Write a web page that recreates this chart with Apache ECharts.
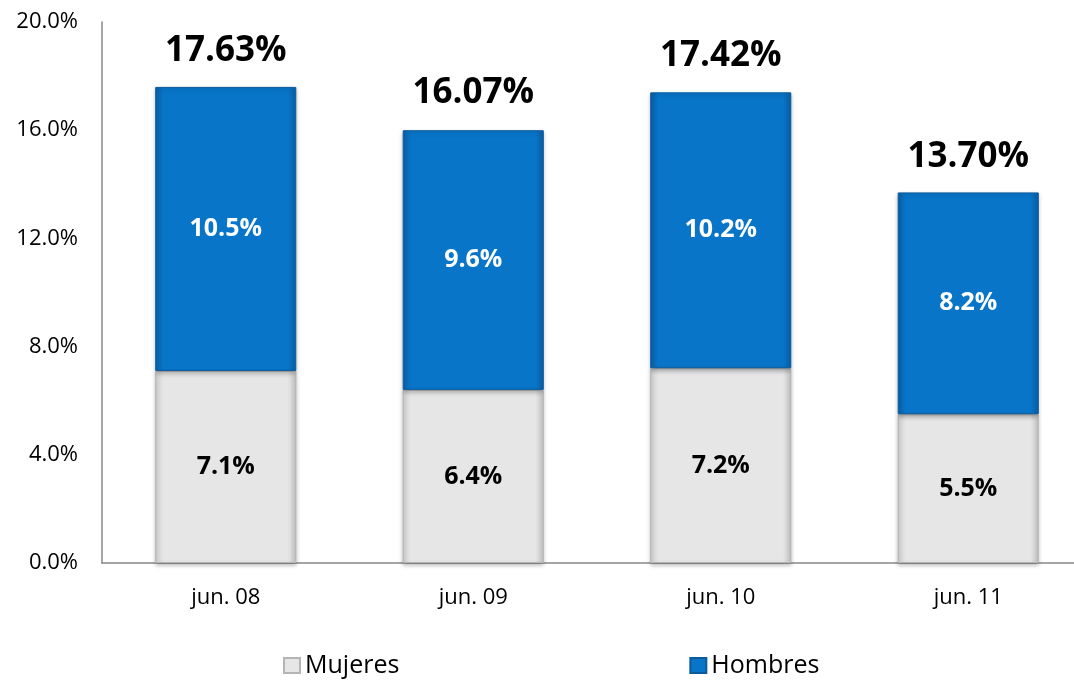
<!DOCTYPE html>
<html>
<head>
<meta charset="utf-8">
<script src="https://cdn.jsdelivr.net/npm/echarts@6/dist/echarts.min.js"></script>
<style>
  html, body { margin: 0; padding: 0; background: #fff; }
  #chart { width: 1074px; height: 681px; }
</style>
</head>
<body>
<div id="chart"></div>
<script>
const categories = ["jun. 08", "jun. 09", "jun. 10", "jun. 11"];
const mujeres = [7.1, 6.4, 7.2, 5.5];
const hombres = [10.5, 9.6, 10.2, 8.2];
const totals = [17.63, 16.07, 17.42, 13.7];

const font = "'Open Sans', 'Noto Sans', sans-serif";

const blueFill = new echarts.graphic.LinearGradient(0, 0, 1, 0, [
  { offset: 0, color: "#0a5fa6" },
  { offset: 0.06, color: "#0875c9" },
  { offset: 0.94, color: "#0875c9" },
  { offset: 1, color: "#0a5fa6" },
]);
const grayFill = new echarts.graphic.LinearGradient(0, 0, 1, 0, [
  { offset: 0, color: "#cfcfcf" },
  { offset: 0.06, color: "#e6e6e6" },
  { offset: 0.94, color: "#e6e6e6" },
  { offset: 1, color: "#c4c4c4" },
]);

const chart = echarts.init(document.getElementById("chart"));
chart.setOption({
  animation: false,
  textStyle: { fontFamily: font },
  grid: {
    left: 102,
    top: 22,
    width: 990,
    height: 541,
    outerBoundsMode: "none",
    containLabel: false,
  },
  legend: {
    bottom: -2,
    left: 278,
    itemGap: 290,
    itemWidth: 16,
    itemHeight: 15,
    icon: "rect",
    textStyle: { fontSize: 25, color: "#000", fontFamily: font },
    data: ["Mujeres", "Hombres"],
  },
  xAxis: {
    type: "category",
    data: categories,
    axisLine: { lineStyle: { color: "#888", width: 1.5 } },
    axisTick: { show: false },
    axisLabel: { fontSize: 22, color: "#000", margin: 24, fontFamily: font },
  },
  yAxis: {
    type: "value",
    min: 0,
    max: 20,
    interval: 4,
    splitLine: { show: false },
    axisLine: { show: true, lineStyle: { color: "#888", width: 1.5 } },
    axisTick: { show: false },
    axisLabel: {
      fontSize: 22,
      color: "#000",
      margin: 24,
      fontFamily: font,
      formatter: (v) => v.toFixed(1) + "%",
    },
  },
  series: [
    {
      name: "Mujeres",
      type: "bar",
      stack: "total",
      barWidth: "57%",
      data: mujeres,
      itemStyle: {
        color: grayFill,
        borderColor: "#b5b5b5",
        borderWidth: 1,
        shadowColor: "rgba(0,0,0,0.25)",
        shadowBlur: 4,
        shadowOffsetY: 2,
      },
      label: {
        show: true,
        position: "inside",
        fontSize: 25,
        fontWeight: "bold",
        color: "#000",
        fontFamily: font,
        formatter: (p) => p.value.toFixed(1) + "%",
      },
    },
    {
      name: "Hombres",
      type: "bar",
      stack: "total",
      data: hombres,
      itemStyle: {
        color: blueFill,
        borderColor: "#0a5a9c",
        borderWidth: 1,
        shadowColor: "rgba(0,0,0,0.25)",
        shadowBlur: 4,
        shadowOffsetY: 2,
      },
      label: {
        show: true,
        position: "inside",
        fontSize: 25,
        fontWeight: "bold",
        color: "#fff",
        fontFamily: font,
        formatter: (p) => p.value.toFixed(1) + "%",
      },
    },
    {
      name: "Total",
      type: "bar",
      barGap: "-100%",
      barWidth: "57%",
      data: totals,
      silent: true,
      itemStyle: { color: "rgba(0,0,0,0)" },
      z: 1,
      label: {
        show: true,
        position: "top",
        distance: 18,
        fontSize: 35,
        fontWeight: "bold",
        color: "#000",
        fontFamily: font,
        formatter: (p) => p.value.toFixed(2) + "%",
      },
    },
  ],
});
</script>
</body>
</html>
